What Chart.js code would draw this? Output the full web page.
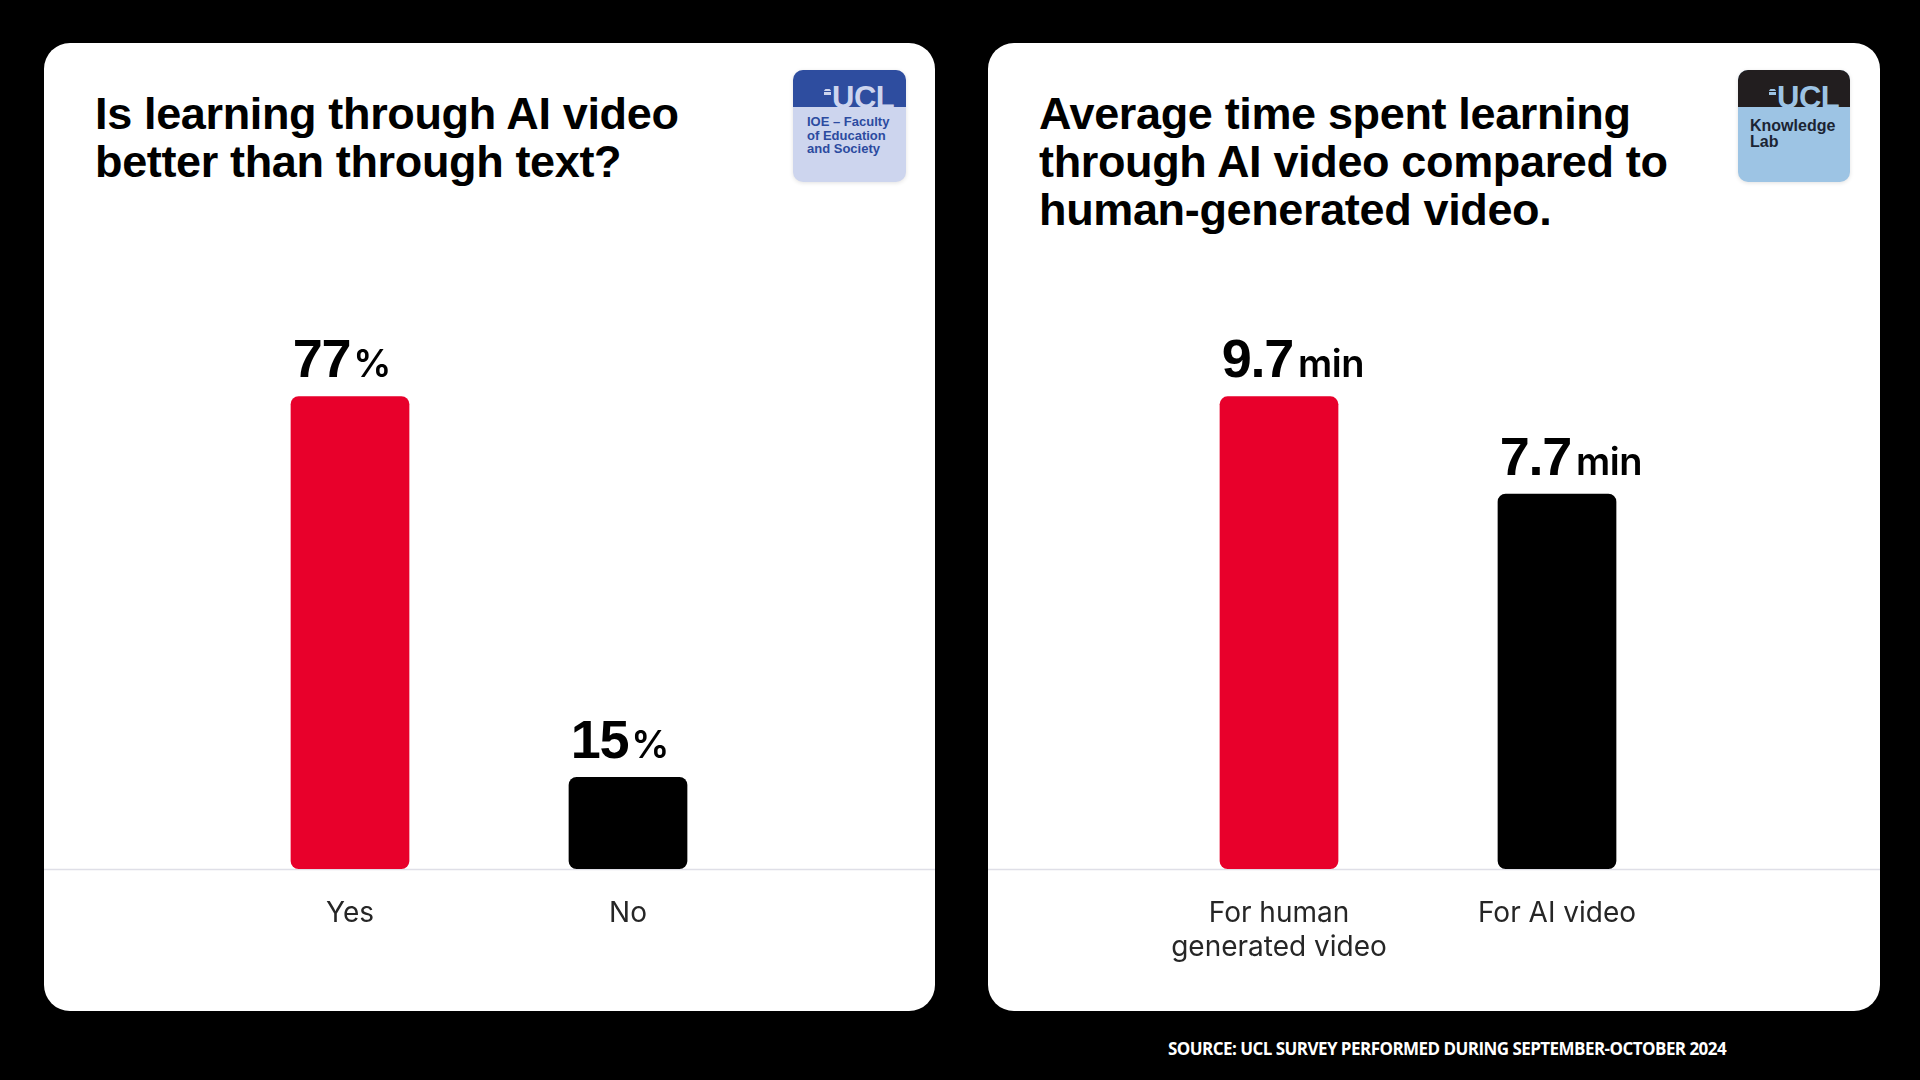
<!DOCTYPE html>
<html>
<head>
<meta charset="utf-8">
<script src="https://cdn.jsdelivr.net/npm/chart.js@4.4.1/dist/chart.umd.min.js"></script>
<style>
  html, body { margin: 0; padding: 0; background: #000; width: 1920px; height: 1080px; overflow: hidden; }
  .card { position: absolute; top: 43px; height: 968px; background: #fff; border-radius: 26px; }
  .title { position: absolute; font-family: "Liberation Sans", Arial, sans-serif; font-weight: 700; font-size: 45px; line-height: 48px; letter-spacing: -0.35px; color: #000; }
  .logo { position: absolute; top: 27px; width: 113px; height: 112px; border-radius: 10px; overflow: hidden; box-shadow: 0 1px 4px rgba(0,0,0,0.12); }
  .band { position: absolute; left: 0; top: 0; width: 100%; height: 37px; }
  .ucl { position: absolute; top: 15px; left: 39px; font-family: "Liberation Sans", Arial, sans-serif; font-weight: 700; font-size: 31px; line-height: 25px; letter-spacing: -0.5px; }
  .dome { position: absolute; left: 31px; top: 17px; width: 7px; height: 8px; }
  .logotext { position: absolute; font-family: "Liberation Sans", Arial, sans-serif; font-weight: 700; }
  canvas { position: absolute; left: 0; top: 187px; }
  .source { position: absolute; left: 1168px; top: 1037px; color: #fff; font-family: "Open Sans", sans-serif; font-weight: 700; font-size: 17px; letter-spacing: -0.55px; white-space: nowrap; }
</style>
</head>
<body>
<div class="card" id="cardL" style="left:44px; width:891px;">
  <div class="title" style="left:51px; top:47px;">Is learning through AI video<br>better than through text?</div>
  <div class="logo" style="left:749px; background:#cdd5ee;">
    <div class="band" style="background:#2e4d9f;"></div>
    <div class="dome" style="background:linear-gradient(#2e4d9f 0 30%, #cdd5ee 30% 45%, #2e4d9f 45% 60%, #cdd5ee 60%);clip-path:polygon(50% 0,100% 45%,100% 100%,0 100%,0 45%);"></div>
    <div class="ucl" style="color:#cdd5ee;">UCL</div>
    <div class="logotext" style="left:14px; top:45px; font-size:13px; line-height:13.5px; color:#2c4ba0;">IOE – Faculty<br>of Education<br>and Society</div>
  </div>
  <canvas id="chartL" width="891" height="781"></canvas>
</div>
<div class="card" id="cardR" style="left:988px; width:892px;">
  <div class="title" style="left:51px; top:47px;">Average time spent learning<br>through AI video compared to<br>human-generated video.</div>
  <div class="logo" style="left:750px; width:112px; background:#9dc4e4;">
    <div class="band" style="background:#221e1f;"></div>
    <div class="dome" style="background:linear-gradient(#221e1f 0 30%, #9dc4e4 30% 45%, #221e1f 45% 60%, #9dc4e4 60%);clip-path:polygon(50% 0,100% 45%,100% 100%,0 100%,0 45%);"></div>
    <div class="ucl" style="color:#9dc4e4;">UCL</div>
    <div class="logotext" style="left:12px; top:48px; font-size:16px; line-height:16px; color:#1b2433;">Knowledge<br>Lab</div>
  </div>
  <canvas id="chartR" width="892" height="781"></canvas>
</div>
<div class="source">SOURCE: UCL SURVEY PERFORMED DURING SEPTEMBER-OCTOBER 2024</div>

<script>
// ---- data ----
const leftCategories = ['Yes', 'No'];
const leftValues = [77, 15];
const leftUnit = '%';
const leftMax = 100;

const rightCategories = [['For human', 'generated video'], 'For AI video'];
const rightValues = [9.7, 7.7];
const rightUnit = 'min';
const rightMax = 12.6;

const barColors = ['#e8002b', '#000000'];

// ---- plugins ----
const baselinePlugin = {
  id: 'baseline',
  beforeDatasetsDraw(chart) {
    const ctx = chart.ctx;
    const y = Math.round(chart.scales.y.getPixelForValue(0)) + 0.5;
    ctx.save();
    ctx.strokeStyle = '#dfdfe7';
    ctx.lineWidth = 1.5;
    ctx.beginPath();
    ctx.moveTo(0, y);
    ctx.lineTo(chart.width, y);
    ctx.stroke();
    ctx.restore();
  }
};

const valueLabelPlugin = {
  id: 'valueLabels',
  afterDatasetsDraw(chart, args, opts) {
    const ctx = chart.ctx;
    const meta = chart.getDatasetMeta(0);
    const data = chart.data.datasets[0].data;
    ctx.save();
    ctx.fillStyle = '#000';
    ctx.textAlign = 'left';
    ctx.textBaseline = 'alphabetic';
    meta.data.forEach((el, i) => {
      const num = String(data[i]);
      const x = el.x - el.width / 2 + 2;
      const y = el.y - 19;
      ctx.font = '700 54px "Liberation Sans", Arial, sans-serif';
      ctx.letterSpacing = '-1.2px';
      ctx.fillText(num, x, y);
      const w = ctx.measureText(num).width;
      ctx.font = '600 38px Inter, "Liberation Sans", sans-serif';
      ctx.letterSpacing = '-0.5px';
      ctx.fillText(opts.unit, x + w + opts.gap, y);
    });
    ctx.restore();
  }
};

function makeChart(id, labels, values, maxV, unit, pad) {
  return new Chart(document.getElementById(id), {
    type: 'bar',
    data: {
      labels: labels,
      datasets: [{
        data: values,
        backgroundColor: barColors,
        borderRadius: 8,
        borderSkipped: false,
        categoryPercentage: 1.0,
        barPercentage: 0.427
      }]
    },
    options: {
      responsive: false,
      animation: false,
      devicePixelRatio: 1,
      layout: { padding: { top: 25, left: pad[0], right: pad[1], bottom: 0 } },
      plugins: {
        legend: { display: false },
        tooltip: { enabled: false },
        valueLabels: { unit: unit, gap: unit === '%' ? 3 : 5 }
      },
      scales: {
        x: {
          grid: { display: false },
          border: { display: false },
          ticks: {
            color: '#262626',
            font: { family: 'Inter', size: 28, weight: 400, lineHeight: 1.22 },
            padding: 19,
            maxRotation: 0
          },
          afterFit(axis) { axis.height = 142; }
        },
        y: { display: false, min: 0, max: maxV }
      }
    },
    plugins: [baselinePlugin, valueLabelPlugin]
  });
}

makeChart('chartL', leftCategories, leftValues, leftMax, leftUnit, [167, 168]);
makeChart('chartR', rightCategories, rightValues, rightMax, rightUnit, [152, 184]);
</script>
</body>
</html>
